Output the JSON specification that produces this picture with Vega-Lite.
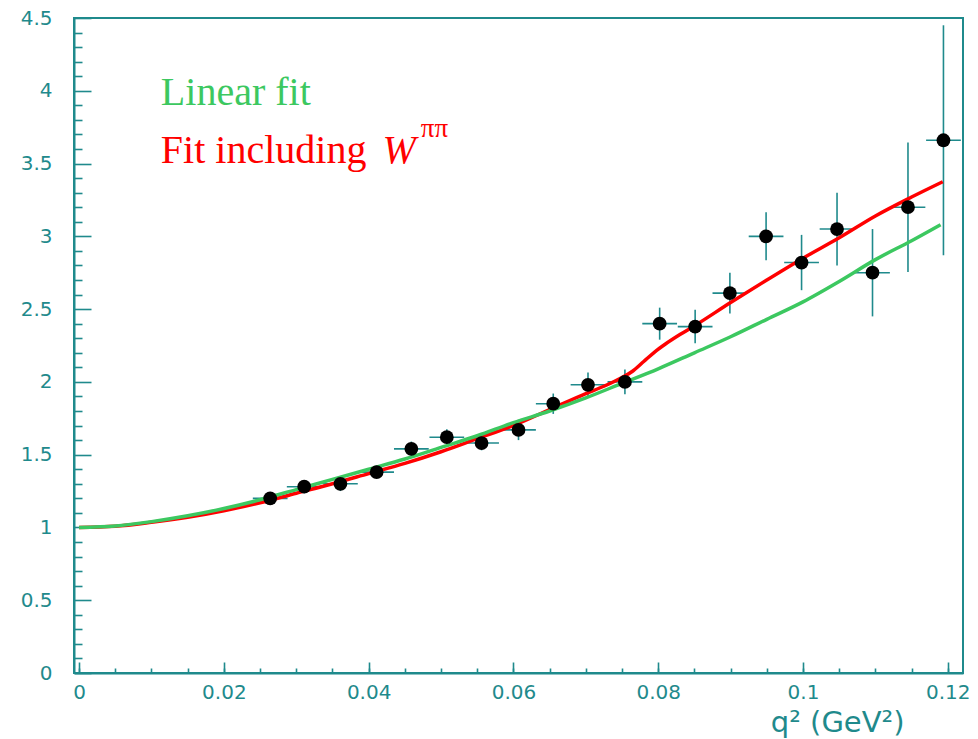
{
  "$schema": "https://vega.github.io/schema/vega-lite/v6.json",
  "width": 889,
  "height": 655,
  "autosize": {"type": "none"},
  "padding": {"left": 74, "top": 18, "right": 15, "bottom": 66},
  "background": "white",
  "config": {
    "view": {"stroke": "#1f8a8c", "strokeWidth": 2},
    "axis": {"grid": false}
  },
  "datasets": {
    "pts": [
      {"q": 0.0264, "v": 1.20, "qlo": 0.0240, "qhi": 0.0288, "vlo": 1.16, "vhi": 1.24},
      {"q": 0.0311, "v": 1.28, "qlo": 0.0287, "qhi": 0.0335, "vlo": 1.235, "vhi": 1.325},
      {"q": 0.0361, "v": 1.30, "qlo": 0.0337, "qhi": 0.0385, "vlo": 1.25, "vhi": 1.35},
      {"q": 0.0411, "v": 1.38, "qlo": 0.0387, "qhi": 0.0435, "vlo": 1.34, "vhi": 1.42},
      {"q": 0.0459, "v": 1.54, "qlo": 0.0435, "qhi": 0.0483, "vlo": 1.49, "vhi": 1.59},
      {"q": 0.0508, "v": 1.62, "qlo": 0.0484, "qhi": 0.0532, "vlo": 1.565, "vhi": 1.675},
      {"q": 0.0556, "v": 1.58, "qlo": 0.0532, "qhi": 0.0580, "vlo": 1.53, "vhi": 1.63},
      {"q": 0.0607, "v": 1.67, "qlo": 0.0583, "qhi": 0.0631, "vlo": 1.60, "vhi": 1.74},
      {"q": 0.0655, "v": 1.85, "qlo": 0.0631, "qhi": 0.0679, "vlo": 1.78, "vhi": 1.92},
      {"q": 0.0703, "v": 1.98, "qlo": 0.0679, "qhi": 0.0727, "vlo": 1.895, "vhi": 2.065},
      {"q": 0.0754, "v": 2.00, "qlo": 0.0730, "qhi": 0.0778, "vlo": 1.915, "vhi": 2.085},
      {"q": 0.0802, "v": 2.40, "qlo": 0.0778, "qhi": 0.0826, "vlo": 2.29, "vhi": 2.51},
      {"q": 0.0851, "v": 2.38, "qlo": 0.0827, "qhi": 0.0875, "vlo": 2.265, "vhi": 2.495},
      {"q": 0.0899, "v": 2.61, "qlo": 0.0875, "qhi": 0.0923, "vlo": 2.47, "vhi": 2.75},
      {"q": 0.0949, "v": 3.00, "qlo": 0.0925, "qhi": 0.0973, "vlo": 2.835, "vhi": 3.165},
      {"q": 0.0998, "v": 2.82, "qlo": 0.0974, "qhi": 0.1022, "vlo": 2.63, "vhi": 3.01},
      {"q": 0.1047, "v": 3.05, "qlo": 0.1023, "qhi": 0.1071, "vlo": 2.80, "vhi": 3.30},
      {"q": 0.1096, "v": 2.75, "qlo": 0.1072, "qhi": 0.1120, "vlo": 2.45, "vhi": 3.05},
      {"q": 0.1145, "v": 3.20, "qlo": 0.1121, "qhi": 0.1169, "vlo": 2.755, "vhi": 3.645},
      {"q": 0.1194, "v": 3.66, "qlo": 0.1170, "qhi": 0.1218, "vlo": 2.87, "vhi": 4.45}
    ],
    "green": [
      {"q": 0, "v": 1.0}, {"q": 0.005, "v": 1.01}, {"q": 0.01, "v": 1.04}, {"q": 0.015, "v": 1.08},
      {"q": 0.02, "v": 1.13}, {"q": 0.025, "v": 1.19}, {"q": 0.03, "v": 1.26}, {"q": 0.035, "v": 1.33},
      {"q": 0.04, "v": 1.40}, {"q": 0.045, "v": 1.47}, {"q": 0.05, "v": 1.55}, {"q": 0.055, "v": 1.63},
      {"q": 0.06, "v": 1.72}, {"q": 0.065, "v": 1.80}, {"q": 0.07, "v": 1.89}, {"q": 0.075, "v": 1.99},
      {"q": 0.08, "v": 2.09}, {"q": 0.085, "v": 2.20}, {"q": 0.09, "v": 2.31}, {"q": 0.095, "v": 2.43},
      {"q": 0.1, "v": 2.55}, {"q": 0.105, "v": 2.69}, {"q": 0.11, "v": 2.84}, {"q": 0.115, "v": 2.97},
      {"q": 0.119, "v": 3.08}
    ],
    "red": [
      {"q": 0, "v": 1.0}, {"q": 0.005, "v": 1.008}, {"q": 0.01, "v": 1.035}, {"q": 0.015, "v": 1.07},
      {"q": 0.02, "v": 1.115}, {"q": 0.025, "v": 1.17}, {"q": 0.03, "v": 1.235}, {"q": 0.035, "v": 1.30},
      {"q": 0.04, "v": 1.37}, {"q": 0.045, "v": 1.44}, {"q": 0.05, "v": 1.52}, {"q": 0.055, "v": 1.61},
      {"q": 0.06, "v": 1.70}, {"q": 0.065, "v": 1.81}, {"q": 0.07, "v": 1.92}, {"q": 0.0725, "v": 1.97},
      {"q": 0.075, "v": 2.03}, {"q": 0.0765, "v": 2.075}, {"q": 0.078, "v": 2.14}, {"q": 0.0795, "v": 2.205},
      {"q": 0.081, "v": 2.26}, {"q": 0.083, "v": 2.325}, {"q": 0.085, "v": 2.385},
      {"q": 0.09, "v": 2.545}, {"q": 0.095, "v": 2.70}, {"q": 0.1, "v": 2.85}, {"q": 0.105, "v": 2.99},
      {"q": 0.11, "v": 3.14}, {"q": 0.115, "v": 3.27}, {"q": 0.1193, "v": 3.375}
    ],
    "labels": [
      {"id": "lin", "txt": "Linear fit", "q": 0.0113, "v": 3.90},
      {"id": "fit", "txt": "Fit including", "q": 0.0113, "v": 3.503},
      {"id": "w", "txt": "W", "q": 0.0419, "v": 3.503},
      {"id": "pp", "txt": "ππ", "q": 0.0472, "v": 3.68}
    ]
  },
  "resolve": {"axis": {"x": "independent", "y": "independent"}},
  "layer": [
    {
      "data": {"name": "pts"},
      "mark": {"type": "rule", "color": "#1f8a8c", "strokeWidth": 1.6},
      "encoding": {
        "x": {
          "field": "q", "type": "quantitative",
          "scale": {"domain": [-0.0007, 0.1221], "nice": false, "zero": false},
          "axis": {
            "orient": "bottom", "values": [0, 0.02, 0.04, 0.06, 0.08, 0.1, 0.12],
            "labelExpr": "format(datum.value, '.2~f')",
            "tickSize": -11, "tickColor": "#1f8a8c", "tickWidth": 1.6,
            "domain": true, "domainColor": "#1f8a8c", "domainWidth": 2,
            "labelColor": "#1f8a8c", "labelFont": "DejaVu Sans", "labelFontSize": 20,
            "labelPadding": 20, "labelFlush": false, "labelOverlap": false,
            "title": "q²  (GeV²)", "titleColor": "#1f8a8c", "titleFont": "DejaVu Sans",
            "titleFontSize": 29, "titleFontWeight": "normal",
            "titleAnchor": "end", "titleAlign": "right", "titleBaseline": "alphabetic",
            "titleX": 830, "titleY": 58
          }
        },
        "y": {
          "field": "vlo", "type": "quantitative",
          "scale": {"domain": [0, 4.5], "nice": false, "zero": false},
          "axis": {
            "orient": "left", "values": [0, 0.5, 1, 1.5, 2, 2.5, 3, 3.5, 4, 4.5],
            "labelExpr": "format(datum.value, '.1~f')",
            "tickSize": -17, "tickColor": "#1f8a8c", "tickWidth": 1.6,
            "domain": true, "domainColor": "#1f8a8c", "domainWidth": 2,
            "labelColor": "#1f8a8c", "labelFont": "DejaVu Sans", "labelFontSize": 20,
            "labelPadding": 39, "labelFlush": false, "labelOverlap": false,
            "title": null
          }
        },
        "y2": {"field": "vhi"}
      }
    },
    {
      "data": {"name": "pts"},
      "mark": {"type": "rule", "color": "#1f8a8c", "strokeWidth": 1.6},
      "encoding": {
        "x": {
          "field": "qlo", "type": "quantitative",
          "scale": {"domain": [-0.0007, 0.1221], "nice": false, "zero": false},
          "axis": {
            "orient": "top", "offset": -655,
            "values": [0, 0.005, 0.01, 0.015, 0.02, 0.025, 0.03, 0.035, 0.04, 0.045, 0.05, 0.055, 0.06, 0.065, 0.07, 0.075, 0.08, 0.085, 0.09, 0.095, 0.1, 0.105, 0.11, 0.115, 0.12],
            "tickSize": 5, "tickColor": "#1f8a8c", "tickWidth": 1.6,
            "domain": false, "labels": false, "title": null
          }
        },
        "x2": {"field": "qhi"},
        "y": {
          "field": "v", "type": "quantitative",
          "scale": {"domain": [0, 4.5], "nice": false, "zero": false},
          "axis": {
            "orient": "right", "offset": -889,
            "values": [0.1, 0.2, 0.3, 0.4, 0.6, 0.7, 0.8, 0.9, 1.1, 1.2, 1.3, 1.4, 1.6, 1.7, 1.8, 1.9, 2.1, 2.2, 2.3, 2.4, 2.6, 2.7, 2.8, 2.9, 3.1, 3.2, 3.3, 3.4, 3.6, 3.7, 3.8, 3.9, 4.1, 4.2, 4.3, 4.4],
            "tickSize": 8, "tickColor": "#1f8a8c", "tickWidth": 1.6,
            "domain": false, "labels": false, "title": null
          }
        }
      }
    },
    {
      "data": {"name": "red"},
      "mark": {"type": "line", "color": "#ff0000", "strokeWidth": 3.5, "interpolate": "monotone"},
      "encoding": {
        "x": {"field": "q", "type": "quantitative", "scale": {"domain": [-0.0007, 0.1221], "nice": false, "zero": false}, "axis": null},
        "y": {"field": "v", "type": "quantitative", "scale": {"domain": [0, 4.5], "nice": false, "zero": false}, "axis": null}
      }
    },
    {
      "data": {"name": "green"},
      "mark": {"type": "line", "color": "#3cc860", "strokeWidth": 3.5, "interpolate": "monotone"},
      "encoding": {
        "x": {"field": "q", "type": "quantitative", "scale": {"domain": [-0.0007, 0.1221], "nice": false, "zero": false}, "axis": null},
        "y": {"field": "v", "type": "quantitative", "scale": {"domain": [0, 4.5], "nice": false, "zero": false}, "axis": null}
      }
    },
    {
      "data": {"name": "pts"},
      "mark": {"type": "point", "filled": true, "shape": "circle", "color": "#000000", "opacity": 1, "size": 190},
      "encoding": {
        "x": {"field": "q", "type": "quantitative", "scale": {"domain": [-0.0007, 0.1221], "nice": false, "zero": false}, "axis": null},
        "y": {"field": "v", "type": "quantitative", "scale": {"domain": [0, 4.5], "nice": false, "zero": false}, "axis": null}
      }
    },
    {
      "data": {"name": "labels"},
      "transform": [{"filter": "datum.id === 'lin'"}],
      "mark": {"type": "text", "align": "left", "baseline": "alphabetic", "font": "Liberation Serif", "fontSize": 40, "color": "#3cc860"},
      "encoding": {
        "x": {"field": "q", "type": "quantitative", "scale": {"domain": [-0.0007, 0.1221], "nice": false, "zero": false}, "axis": null},
        "y": {"field": "v", "type": "quantitative", "scale": {"domain": [0, 4.5], "nice": false, "zero": false}, "axis": null},
        "text": {"field": "txt"}
      }
    },
    {
      "data": {"name": "labels"},
      "transform": [{"filter": "datum.id === 'fit'"}],
      "mark": {"type": "text", "align": "left", "baseline": "alphabetic", "font": "Liberation Serif", "fontSize": 40, "color": "#ff0000"},
      "encoding": {
        "x": {"field": "q", "type": "quantitative", "scale": {"domain": [-0.0007, 0.1221], "nice": false, "zero": false}, "axis": null},
        "y": {"field": "v", "type": "quantitative", "scale": {"domain": [0, 4.5], "nice": false, "zero": false}, "axis": null},
        "text": {"field": "txt"}
      }
    },
    {
      "data": {"name": "labels"},
      "transform": [{"filter": "datum.id === 'w'"}],
      "mark": {"type": "text", "align": "left", "baseline": "alphabetic", "font": "Liberation Serif", "fontStyle": "italic", "fontSize": 40, "color": "#ff0000"},
      "encoding": {
        "x": {"field": "q", "type": "quantitative", "scale": {"domain": [-0.0007, 0.1221], "nice": false, "zero": false}, "axis": null},
        "y": {"field": "v", "type": "quantitative", "scale": {"domain": [0, 4.5], "nice": false, "zero": false}, "axis": null},
        "text": {"field": "txt"}
      }
    },
    {
      "data": {"name": "labels"},
      "transform": [{"filter": "datum.id === 'pp'"}],
      "mark": {"type": "text", "align": "left", "baseline": "alphabetic", "font": "Liberation Serif", "fontSize": 27, "color": "#ff0000"},
      "encoding": {
        "x": {"field": "q", "type": "quantitative", "scale": {"domain": [-0.0007, 0.1221], "nice": false, "zero": false}, "axis": null},
        "y": {"field": "v", "type": "quantitative", "scale": {"domain": [0, 4.5], "nice": false, "zero": false}, "axis": null},
        "text": {"field": "txt"}
      }
    }
  ]
}
